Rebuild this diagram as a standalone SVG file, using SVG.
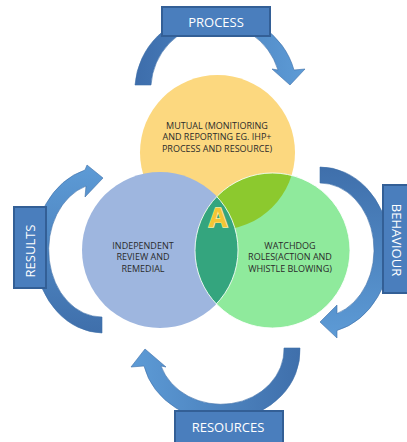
<svg xmlns="http://www.w3.org/2000/svg" width="407" height="442" viewBox="0 0 407 442">
<style>
.box{fill:#4a7ebd;stroke:#335f96;stroke-width:2}
.bt{font-family:"Open Sans","Liberation Sans",sans-serif;font-size:13px;fill:#ffffff;text-anchor:middle}
.vt{font-family:"Open Sans","Liberation Sans",sans-serif;font-size:9px;fill:#2b2b2b;text-anchor:middle}
.arr{stroke:#3e6ea8;stroke-width:0.6}
</style>
<defs>
<linearGradient id="gP" x1="0" y1="0" x2="1" y2="0"><stop offset="0" stop-color="#3d6dab"/><stop offset="1" stop-color="#5d9bd6"/></linearGradient>
<linearGradient id="gR" x1="0" y1="0" x2="0" y2="1"><stop offset="0" stop-color="#5d9bd6"/><stop offset="1" stop-color="#3f6fab"/></linearGradient>
<linearGradient id="gB" x1="0" y1="0" x2="0" y2="1"><stop offset="0" stop-color="#3f6fab"/><stop offset="1" stop-color="#5d9bd6"/></linearGradient>
<linearGradient id="gS" x1="0" y1="0" x2="1" y2="0"><stop offset="0" stop-color="#5d9bd6"/><stop offset="1" stop-color="#3f6fab"/></linearGradient>
<clipPath id="cYellow"><circle cx="217.5" cy="152.5" r="77.5"/></clipPath>
<clipPath id="cBlue"><circle cx="160" cy="250" r="78"/></clipPath>
<clipPath id="cGreen"><circle cx="272.5" cy="250.5" r="77.5"/></clipPath>
</defs>

<g id="connectors">
<path class="arr" fill="url(#gP)" d="M135,85 A81 78 0 0 1 294,70 L305,69 L290,85 L272,69 L278,70 A65 66 0 0 0 151,85 Z"/>
<path class="arr" fill="url(#gR)" d="M102,333 A69 83 0 0 1 85,170 L87,165 L103,178 L85,197 L86,186 A53 67 0 0 0 102,317 Z"/>
<path class="arr" fill="url(#gB)" d="M320,167 A70 83 0 0 1 337,330.5 L337,338 L320,322 L337,305 L337,313.6 A54 67 0 0 0 320,183 Z"/>
<path class="arr" fill="url(#gS)" d="M300,348 A79 70 0 0 1 144,366 L131,367 L145,349 L166,367 L161,366 A63 55 0 0 0 284,348 Z"/>
</g>

<g id="process">
<rect class="box" x="162" y="7" width="108" height="29"/>
<text class="bt" x="216" y="27">PROCESS</text>
</g>
<g id="results">
<rect class="box" x="14" y="207" width="32" height="81"/>
<text class="bt" transform="translate(35,251) rotate(-90)">RESULTS</text>
</g>
<g id="behaviour">
<rect class="box" x="383" y="185" width="30" height="108"/>
<text class="bt" transform="translate(392,240) rotate(90)">BEHAVIOUR</text>
</g>
<g id="resources">
<rect class="box" x="175" y="411" width="108" height="34"/>
<text class="bt" x="228" y="432">RESOURCES</text>
</g>

<g id="mutual">
<circle cx="217.5" cy="152.5" r="77.5" fill="#fcd87f"/>
<text class="vt" x="217" y="128.5">MUTUAL (MONITIORING</text>
<text class="vt" x="217" y="140">AND REPORTING EG. IHP+</text>
<text class="vt" x="217" y="151.5">PROCESS AND RESOURCE)</text>
</g>
<g id="independent">
<circle cx="160" cy="250" r="78" fill="#9eb6df"/>
<text class="vt" x="143" y="248.5">INDEPENDENT</text>
<text class="vt" x="143" y="260">REVIEW AND</text>
<text class="vt" x="143" y="271.5">REMEDIAL</text>
</g>
<g id="watchdog">
<circle cx="272.5" cy="250.5" r="77.5" fill="#8fea9c"/>
<text class="vt" x="290" y="248.5">WATCHDOG</text>
<text class="vt" x="290" y="260">ROLES(ACTION AND</text>
<text class="vt" x="290" y="271.5">WHISTLE BLOWING)</text>
</g>
<g id="overlaps">
<circle cx="272.5" cy="250.5" r="77.5" fill="#8cc92e" clip-path="url(#cYellow)"/>
<circle cx="272.5" cy="250.5" r="77.5" fill="#34a57e" clip-path="url(#cBlue)"/>
<circle cx="272.5" cy="250.5" r="77.5" fill="none" stroke="#ffffff" stroke-width="1" stroke-opacity="0.85"/>
<circle cx="160" cy="250" r="78" fill="none" stroke="#ffffff" stroke-width="1" stroke-opacity="0.85" clip-path="url(#cGreen)"/>
</g>
<g id="a-label">
<text x="218" y="227" font-family="'Open Sans','Liberation Sans',sans-serif" font-size="27" font-weight="bold" text-anchor="middle" fill="#f4c535" stroke="#fff0a0" stroke-width="1.4" paint-order="stroke">A</text>
</g>
</svg>
